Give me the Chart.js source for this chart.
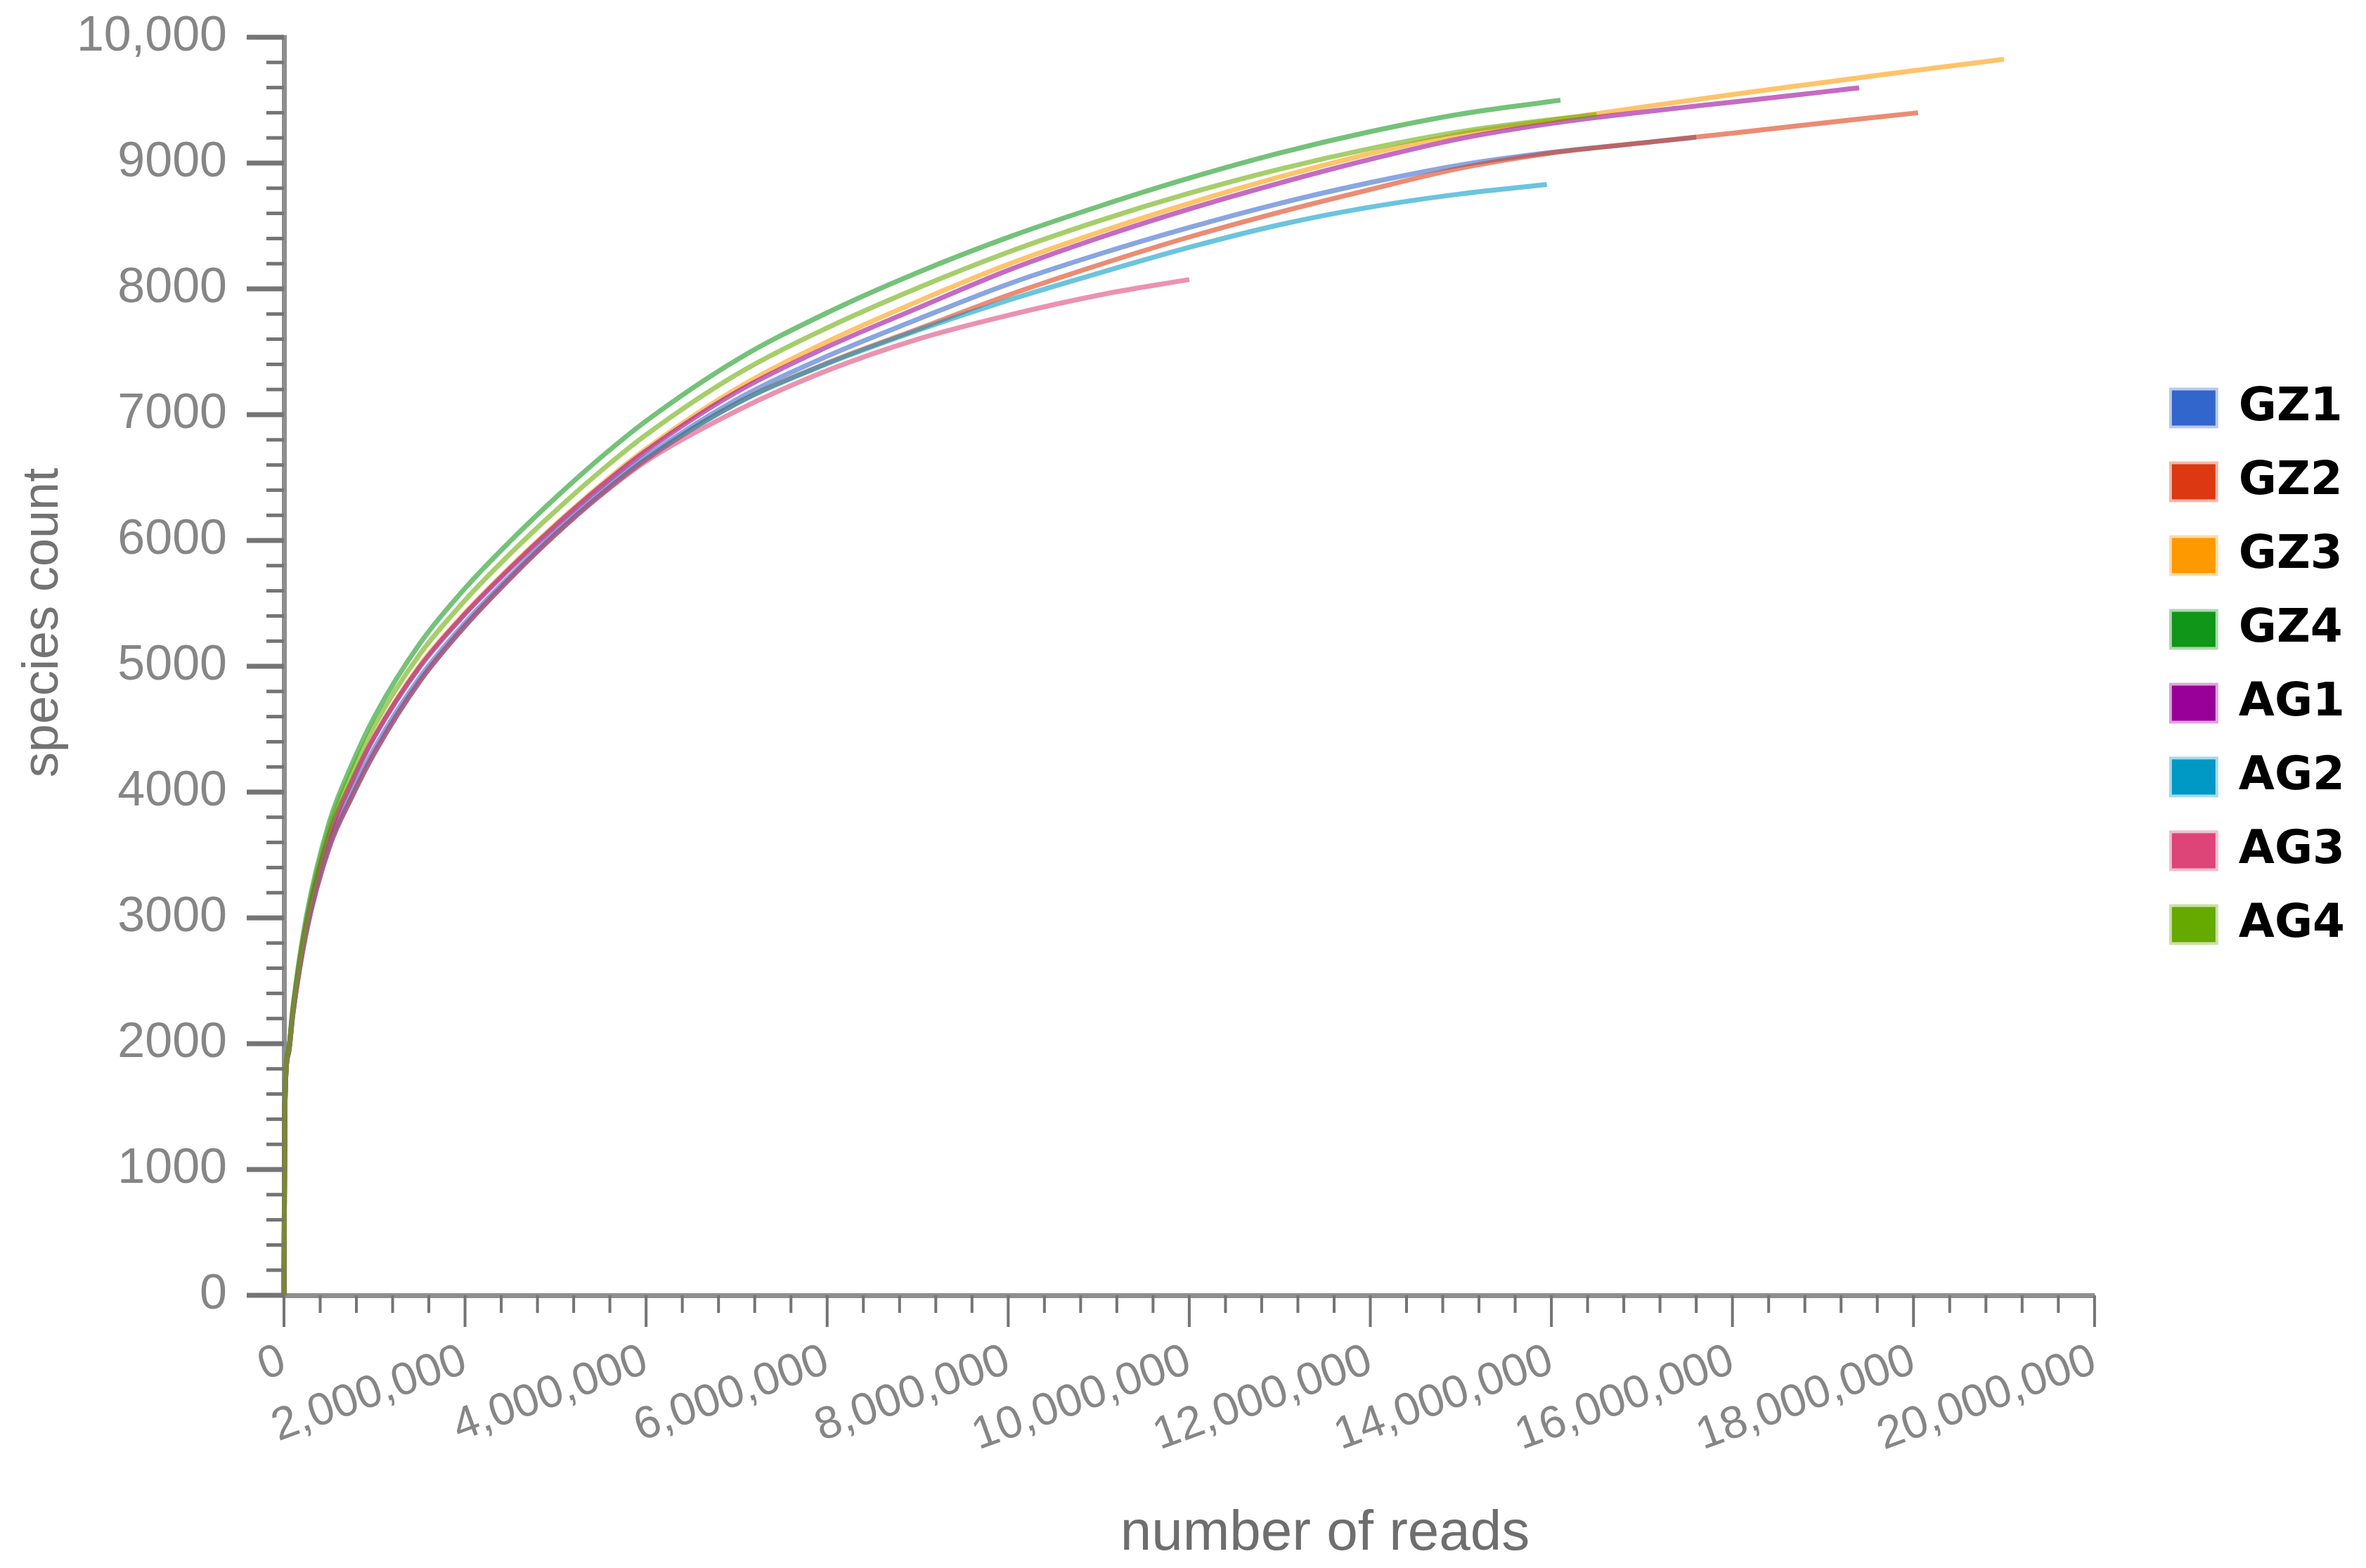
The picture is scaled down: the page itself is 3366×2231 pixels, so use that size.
<!DOCTYPE html>
<html>
<head>
<meta charset="utf-8">
<script src="https://cdn.jsdelivr.net/npm/chart.js@4.4.1/dist/chart.umd.min.js"></script>
<style>
html,body{margin:0;padding:0;background:#fff;}
canvas{display:block;}
</style>
</head>
<body>
<canvas id="c" width="3366" height="2231" style="width:3366px;height:2231px"></canvas>
<script>
// ---------------- data ----------------
const seriesNames = ['GZ1', 'GZ2', 'GZ3', 'GZ4', 'AG1', 'AG2', 'AG3', 'AG4'];
const seriesColors = ['#3366cc', '#dc3912', '#ff9900', '#109618', '#990099', '#0099c6', '#dd4477', '#66aa00'];

const readsGrid = [0, 10000, 50000, 100000, 250000, 500000, 750000, 1000000, 1500000, 2000000,
  2500000, 3000000, 3500000, 4000000, 5000000, 6000000, 7000000, 8000000, 9000000, 10000000,
  11000000, 12000000, 13000000, 14000000];

const gz1Reads = readsGrid.concat([15000000, 15600000]);
const gz1Species = [0, 1500, 1930, 2255, 2920, 3590, 4000, 4350, 4910, 5345, 5720, 6070, 6385, 6665,
  7120, 7465, 7758, 8038, 8275, 8488, 8680, 8845, 8985, 9085, 9160, 9205];

const gz2Reads = readsGrid.concat([15000000, 16000000, 17000000, 18000000, 18050000]);
const gz2Species = [0, 1500, 1925, 2245, 2900, 3560, 3960, 4310, 4880, 5320, 5700, 6050, 6365, 6645,
  7090, 7410, 7680, 7950, 8190, 8412, 8610, 8790, 8960, 9080, 9160, 9238, 9318, 9396, 9400];

const gz3Reads = readsGrid.concat([15000000, 16000000, 17000000, 18000000, 19000000]);
const gz3Species = [0, 1500, 1935, 2270, 2960, 3660, 4090, 4450, 5005, 5425, 5790, 6128, 6442, 6728,
  7207, 7580, 7900, 8195, 8450, 8680, 8890, 9075, 9230, 9340, 9445, 9545, 9640, 9735, 9825];

const gz4Reads = readsGrid.concat([14100000]);
const gz4Species = [0, 1500, 1950, 2300, 3020, 3760, 4220, 4600, 5180, 5620, 5995, 6340, 6660, 6950,
  7435, 7810, 8130, 8410, 8655, 8880, 9080, 9250, 9390, 9490, 9500];

const ag1Reads = readsGrid.concat([15000000, 16000000, 17000000, 17400000]);
const ag1Species = [0, 1500, 1935, 2270, 2960, 3660, 4085, 4440, 4995, 5415, 5780, 6118, 6430, 6712,
  7180, 7538, 7847, 8148, 8405, 8635, 8842, 9030, 9195, 9315, 9405, 9485, 9565, 9598];

const ag2Reads = readsGrid.slice(0, 23).concat([13950000]);
const ag2Species = [0, 1500, 1925, 2245, 2900, 3565, 3965, 4315, 4882, 5322, 5702, 6050, 6365, 6645,
  7088, 7405, 7670, 7910, 8125, 8330, 8510, 8650, 8755, 8830];

const ag3Reads = readsGrid.slice(0, 20);
const ag3Species = [0, 1500, 1925, 2245, 2900, 3565, 3965, 4315, 4882, 5320, 5700, 6048, 6360, 6630,
  7030, 7350, 7600, 7790, 7950, 8075];

const ag4Reads = readsGrid.concat([14500000]);
const ag4Species = [0, 1500, 1940, 2280, 2990, 3715, 4160, 4530, 5095, 5525, 5895, 6235, 6552, 6840,
  7320, 7690, 8007, 8292, 8540, 8760, 8952, 9115, 9250, 9345, 9385];

const xTickLabels = ['0', '2,000,000', '4,000,000', '6,000,000', '8,000,000', '10,000,000',
  '12,000,000', '14,000,000', '16,000,000', '18,000,000', '20,000,000'];
const yTickLabels = ['0', '1000', '2000', '3000', '4000', '5000', '6000', '7000', '8000', '9000', '10,000'];
const xTitle = 'number of reads';
const yTitle = 'species count';

// ---------------- chart ----------------
const seriesReads = [gz1Reads, gz2Reads, gz3Reads, gz4Reads, ag1Reads, ag2Reads, ag3Reads, ag4Reads];
const seriesSpecies = [gz1Species, gz2Species, gz3Species, gz4Species, ag1Species, ag2Species, ag3Species, ag4Species];

function rgba(hex, a) {
  const n = parseInt(hex.slice(1), 16);
  return 'rgba(' + ((n >> 16) & 255) + ',' + ((n >> 8) & 255) + ',' + (n & 255) + ',' + a + ')';
}

const datasets = seriesNames.map((name, i) => ({
  label: name,
  data: seriesReads[i].map((r, j) => ({ x: r, y: seriesSpecies[i][j] })),
  borderColor: rgba(seriesColors[i], 0.58),
  backgroundColor: seriesColors[i],
  borderWidth: 7,
  pointRadius: 0,
  pointHoverRadius: 0,
  fill: false,
  cubicInterpolationMode: 'monotone',
  clip: false,
  xAxisID: 'x',
  yAxisID: 'y',
  order: seriesNames.length - 1 - i
}));

const AXIS_COLOR = '#8e8e8e';
const TICK_COLOR = '#747474';
const LABEL_COLOR = '#868686';

const axisTicksPlugin = {
  id: 'axisTicks',
  afterDraw(chart) {
    const { ctx, chartArea: ca } = chart;
    const xs = chart.scales.x, ys = chart.scales.y;
    ctx.save();
    ctx.strokeStyle = TICK_COLOR;
    for (let v = ys.min; v <= ys.max; v += 200) {
      const py = ys.getPixelForValue(v);
      const major = v % 1000 === 0;
      ctx.lineWidth = major ? 7 : 5;
      ctx.beginPath();
      ctx.moveTo(ca.left - (major ? 53 : 25), py);
      ctx.lineTo(ca.left, py);
      ctx.stroke();
    }
    for (let v = xs.min; v <= xs.max; v += 400000) {
      const px = xs.getPixelForValue(v);
      const major = v % 2000000 === 0;
      ctx.lineWidth = 4;
      ctx.beginPath();
      ctx.moveTo(px, ca.bottom);
      ctx.lineTo(px, ca.bottom + (major ? 45 : 25));
      ctx.stroke();
    }
    ctx.restore();

    ctx.save();
    ctx.fillStyle = '#737373';
    ctx.textAlign = 'center';
    ctx.textBaseline = 'middle';
    ctx.font = '72px "Liberation Sans", Arial, sans-serif';
    ctx.translate(62, (ca.top + ca.bottom) / 2 - 62);
    ctx.rotate(-Math.PI / 2);
    ctx.fillText(yTitle, 0, 0);
    ctx.restore();

    ctx.save();
    ctx.fillStyle = '#6e6e6e';
    ctx.textAlign = 'center';
    ctx.textBaseline = 'middle';
    ctx.font = '80px "Liberation Sans", Arial, sans-serif';
    ctx.fillText(xTitle, (ca.left + chart.width) / 2, ca.bottom + 340);
    ctx.restore();
  }
};

Chart.defaults.font.family = '"Liberation Sans", Arial, sans-serif';

new Chart(document.getElementById('c'), {
  type: 'line',
  data: { datasets },
  options: {
    responsive: false,
    animation: false,
    devicePixelRatio: 1,
    events: [],
    layout: { padding: { left: 0, top: 0, right: 20, bottom: 0 } },
    scales: {
      x: {
        type: 'linear',
        position: 'bottom',
        min: 0,
        max: 20000000,
        afterFit(s) { s.height = 388; },
        border: { display: true, color: AXIS_COLOR, width: 7 },
        grid: { display: true, drawOnChartArea: false, drawTicks: false },
        ticks: {
          stepSize: 2000000,
          autoSkip: false,
          minRotation: 20,
          maxRotation: 20,
          padding: 55,
          color: LABEL_COLOR,
          font: { size: 65 },
          callback: (v, i) => xTickLabels[i]
        }
      },
      y: {
        type: 'linear',
        position: 'left',
        min: 0,
        max: 10000,
        afterFit(s) { s.width = 404; s.paddingTop = 53; },
        border: { display: true, color: AXIS_COLOR, width: 7 },
        grid: { display: true, drawOnChartArea: false, drawTicks: false },
        ticks: {
          stepSize: 1000,
          autoSkip: false,
          padding: 81,
          color: LABEL_COLOR,
          font: { size: 70 },
          callback: (v, i) => yTickLabels[i]
        }
      },
      gap: {
        type: 'linear',
        position: 'right',
        display: true,
        afterFit(s) { s.width = 71; },
        border: { display: false },
        grid: { display: false },
        ticks: { display: false }
      }
    },
    plugins: {
      legend: {
        display: true,
        position: 'right',
        align: 'center',
        fullSize: false,
        labels: {
          boxWidth: 62,
          boxHeight: 50,
          padding: 39,
          color: '#000000',
          font: { family: '"DejaVu Sans", Verdana, sans-serif', size: 66, weight: 'bold' },
          generateLabels: (chart) => chart.data.datasets.map((ds, i) => ({
            text: ds.label,
            fillStyle: seriesColors[i],
            strokeStyle: rgba(seriesColors[i], 0.35),
            lineWidth: 8,
            fontColor: '#000000',
            hidden: false,
            datasetIndex: i
          }))
        }
      },
      tooltip: { enabled: false },
      title: { display: false }
    }
  },
  plugins: [axisTicksPlugin]
});
</script>
</body>
</html>
